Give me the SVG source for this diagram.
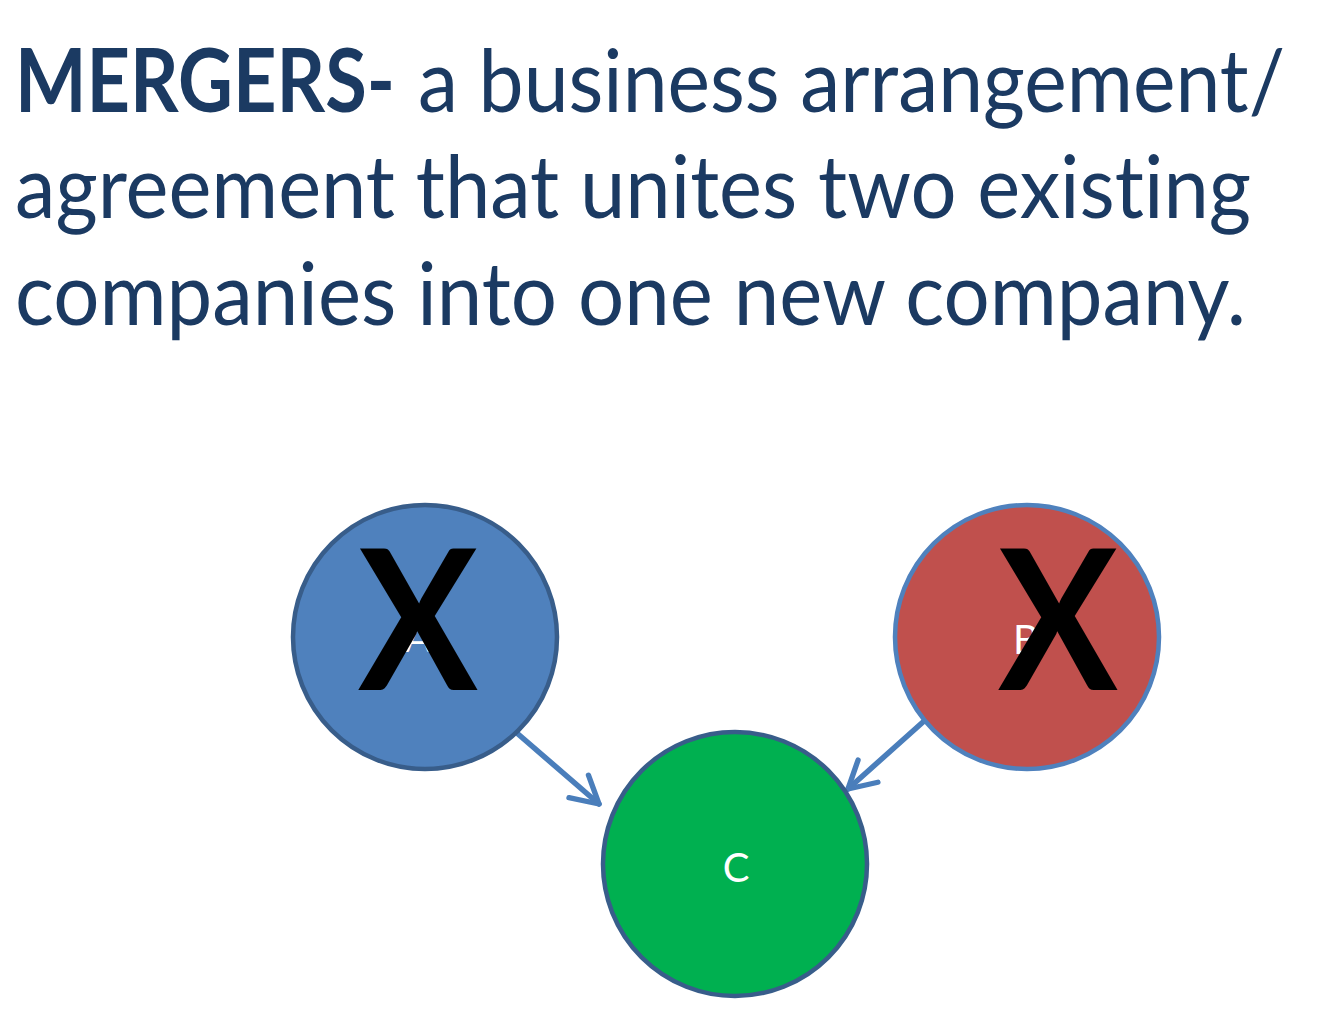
<svg xmlns="http://www.w3.org/2000/svg" width="1334" height="1015" viewBox="0 0 1334 1015">
<style>
.t{font-family:Lato,"Open Sans","Liberation Sans",sans-serif;font-size:88px;fill:#1b3a62;font-variant-ligatures:none}
.b{font-weight:bold}
.lbl{font-family:Lato,"Open Sans","Liberation Sans",sans-serif;font-size:40px;fill:#fff;text-anchor:middle}
.x{font-family:Lato,"Open Sans","Liberation Sans",sans-serif;font-weight:bold;font-size:196px;fill:#000}
.conn{stroke:#4a7ebb;stroke-width:5.5;fill:none;stroke-linecap:round}
</style>
<defs>
<marker id="ah" viewBox="0 0 12 12" refX="10" refY="6" markerWidth="6.5" markerHeight="6.5" orient="auto" markerUnits="strokeWidth">
<path d="M1,1 L10,6 L1,11" fill="none" stroke="#4a7ebb" stroke-width="1.8" stroke-linecap="round" stroke-linejoin="round"/>
</marker>
</defs>
<rect width="1334" height="1015" fill="#fff"/>
<g id="title">
<text class="t" y="112"><tspan class="b" x="15" textLength="380" lengthAdjust="spacingAndGlyphs">MERGERS-</tspan><tspan x="418" textLength="867" lengthAdjust="spacingAndGlyphs">a business arrangement/</tspan></text>
<text class="t" x="15" y="218" textLength="1236" lengthAdjust="spacingAndGlyphs">agreement that unites two existing</text>
<text class="t" x="15" y="325" textLength="1231" lengthAdjust="spacingAndGlyphs">companies into one new company.</text>
</g>
<g id="connectors">
<line class="conn" x1="518" y1="734" x2="599" y2="804" marker-end="url(#ah)"/>
<line class="conn" x1="923" y1="722" x2="848" y2="789" marker-end="url(#ah)"/>
</g>
<g id="node-a">
<circle cx="425" cy="637" r="132" fill="#4f81bd" stroke="#385d8a" stroke-width="4.5"/>
<text class="lbl" x="418" y="652">A</text>
<text class="x" x="358" y="690" textLength="120" lengthAdjust="spacingAndGlyphs">X</text>
</g>
<g id="node-b">
<circle cx="1027" cy="637" r="132" fill="#c0504d" stroke="#4f81bd" stroke-width="4.5"/>
<text class="lbl" x="1026" y="654">B</text>
<text class="x" x="998" y="690" textLength="120" lengthAdjust="spacingAndGlyphs">X</text>
</g>
<g id="node-c">
<circle cx="735" cy="864" r="132" fill="#00b050" stroke="#385d8a" stroke-width="4.5"/>
<text class="lbl" x="736" y="882">C</text>
</g>
</svg>
